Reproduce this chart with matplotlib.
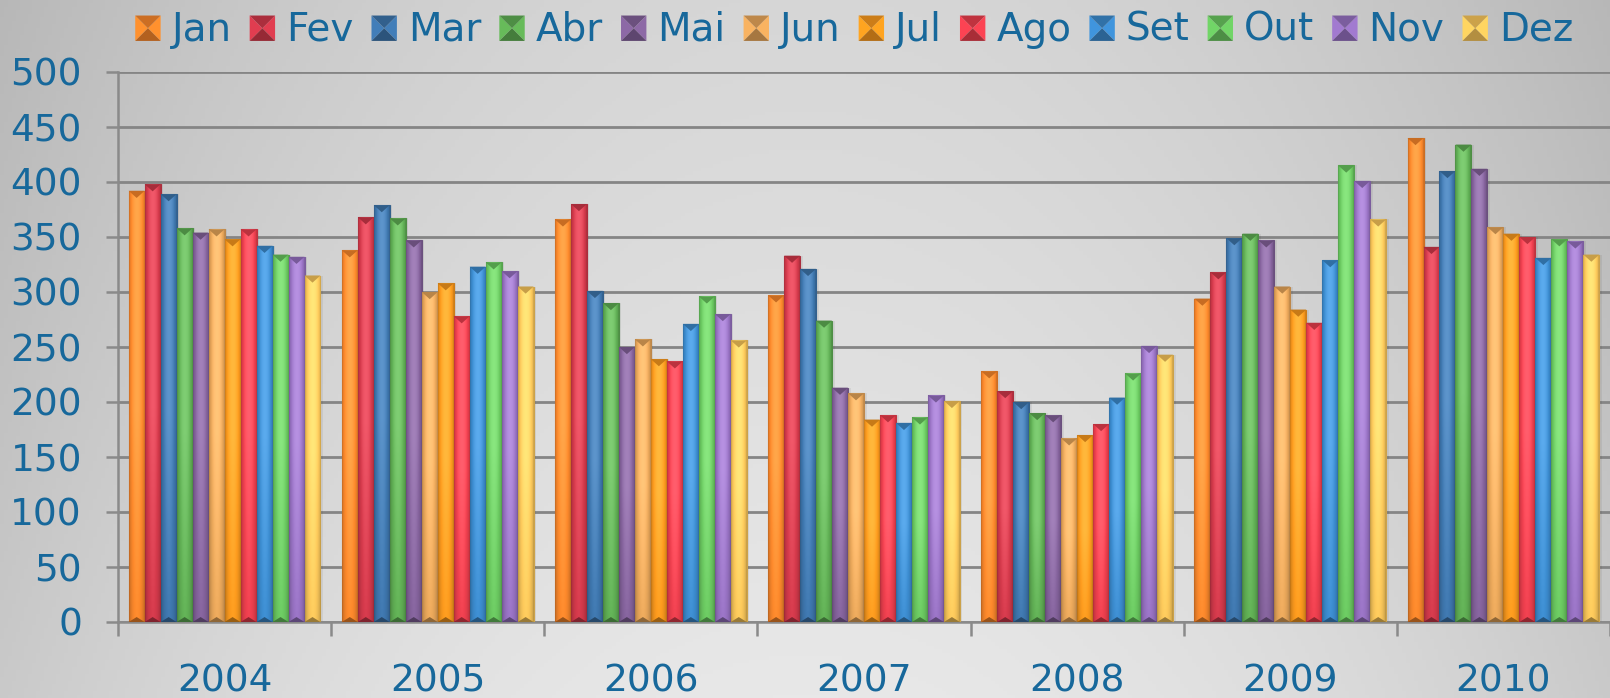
import numpy as np
import matplotlib
matplotlib.use("Agg")
import matplotlib.pyplot as plt
from matplotlib.patches import Polygon, Patch
from matplotlib.legend_handler import HandlerBase
from matplotlib.colors import to_rgb

years = ["2004", "2005", "2006", "2007", "2008", "2009", "2010"]
months = ["Jan", "Fev", "Mar", "Abr", "Mai", "Jun",
          "Jul", "Ago", "Set", "Out", "Nov", "Dez"]

jan = [392, 338, 366, 297, 228, 294, 440]
fev = [398, 368, 380, 333, 210, 318, 341]
mar = [389, 379, 301, 321, 200, 349, 410]
abr = [358, 367, 290, 274, 190, 353, 434]
mai = [354, 347, 250, 213, 188, 347, 412]
jun = [357, 300, 257, 208, 167, 305, 359]
jul = [348, 308, 239, 184, 170, 284, 353]
ago = [357, 278, 237, 188, 180, 272, 350]
setb = [342, 323, 271, 181, 204, 329, 331]
out = [334, 327, 296, 186, 226, 415, 348]
nov = [332, 319, 280, 206, 251, 401, 346]
dez = [315, 305, 256, 201, 243, 366, 334]
series = [jan, fev, mar, abr, mai, jun, jul, ago, setb, out, nov, dez]

colors = ["#FF8A2C", "#D63A4C", "#3F78B0", "#62B256", "#86649E", "#EDAA5C",
          "#FF9C1E", "#F0404F", "#3D8ED2", "#6CCB62", "#9A74C6", "#FFCB5C"]
text_col = "#17689B"

W, H = 1610, 698
fig = plt.figure(figsize=(W / 100, H / 100), dpi=100)

# gray gradient background
bg = fig.add_axes([0, 0, 1, 1], zorder=-10)
yy, xx = np.mgrid[0:1:200j, 0:1:400j]
val = 0.91 - 0.07 * yy - 0.12 * ((xx - 0.5) / 0.5) ** 2
val = np.clip(val, 0, 1)
bg.imshow(np.dstack([val, val, val]), extent=[0, 1, 0, 1], origin="lower", aspect="auto")
bg.set_axis_off()

ax = fig.add_axes([118 / W, (H - 622) / H, (W - 118) / W, 550 / H])
ax.set_facecolor("none")

bw = 0.075
x = np.arange(len(years))
t = np.linspace(0, 1, 24)
prof = 0.80 + 0.32 * np.sin(np.pi * t) ** 0.6
vert = np.linspace(0.9, 1.0, 30)
vert = np.concatenate([vert, np.ones(30)])

for j, (vals, c) in enumerate(zip(series, colors)):
    rgb = np.array(to_rgb(c))
    pos = x + (j - 5.5) * bw
    # faint shadow
    ax.bar(pos + 0.012, vals, bw, color="#000000", alpha=0.06, zorder=2, lw=0)
    bars = ax.bar(pos, vals, bw, color=c, edgecolor=rgb * 0.8, lw=0.8, zorder=3)
    for b, v in zip(bars, vals):
        x0 = b.get_x()
        f = vert[:, None] * prof[None, :]
        img = np.clip(rgb[None, None, :] * f[:, :, None], 0, 1)
        light = np.clip(f - 1, 0, None)[:, :, None]
        img = np.clip(img + (1 - img) * light, 0, 1)
        im = ax.imshow(img, extent=[x0, x0 + bw, 0, v], origin="lower",
                       aspect="auto", zorder=3.5, interpolation="bilinear")
        im.set_clip_path(b)
        ax.add_patch(Polygon([(x0, v), (x0 + bw, v), (x0 + bw / 2, v - 6.5)],
                             closed=True, fc=rgb * 0.78, ec="none", zorder=4))
        ax.add_patch(Polygon([(x0, 0), (x0 + bw, 0), (x0 + bw / 2, 4.5)],
                             closed=True, fc=rgb * 0.6, ec="none", zorder=4))

ax.set_ylim(0, 500)
ax.set_xlim(-0.5, -0.5 + (W - 118) / 214.6)
ax.set_yticks(np.arange(0, 501, 50))
ax.yaxis.grid(True, color="#858585", lw=2)
ax.set_axisbelow(True)
for s in ["top", "right"]:
    ax.spines[s].set_visible(False)
for s in ["left", "bottom"]:
    ax.spines[s].set_color("#8a8a8a")
    ax.spines[s].set_linewidth(1.8)

ax.set_xticks(np.arange(len(years) + 1) - 0.5)
ax.set_xticklabels([])
ax.set_xticks(x, minor=True)
ax.set_xticklabels(years, minor=True)
ax.tick_params(axis="x", which="major", length=10, width=1.8, color="#8a8a8a")
ax.tick_params(axis="x", which="minor", length=0, pad=30, labelsize=27, labelcolor=text_col)
ax.tick_params(axis="y", length=9, width=1.8, color="#8a8a8a", pad=17,
               labelsize=27, labelcolor=text_col)


class BevelHandler(HandlerBase):
    def create_artists(self, legend, orig_handle, xdescent, ydescent,
                       width, height, fontsize, trans):
        rgb = np.array(to_rgb(orig_handle.get_facecolor()))
        s = height * 1.05
        x0 = -xdescent + (width - s) / 2
        y0 = -ydescent + (height - s) / 2 - 1
        cx, cy = x0 + s / 2, y0 + s / 2
        tris = [
            ([(x0, y0), (x0, y0 + s), (cx, cy)], np.clip(rgb * 1.05, 0, 1)),
            ([(x0 + s, y0), (x0 + s, y0 + s), (cx, cy)], np.clip(rgb * 1.05, 0, 1)),
            ([(x0, y0 + s), (x0 + s, y0 + s), (cx, cy)], rgb * 0.8),
            ([(x0, y0), (x0 + s, y0), (cx, cy)], rgb * 0.7),
        ]
        arts = []
        for pts, col in tris:
            p = Polygon(pts, closed=True, fc=col, ec="none", transform=trans)
            arts.append(p)
        return arts


handles = [Patch(facecolor=c) for c in colors]
fig.legend(handles, months, loc="upper center", bbox_to_anchor=(0.531, 1.035),
           ncol=12, frameon=False, fontsize=28, labelcolor=text_col,
           handlelength=0.58, handleheight=0.58, handletextpad=0.32,
           columnspacing=0.5, handler_map={Patch: BevelHandler()})

fig.savefig("out.png", dpi=100)
